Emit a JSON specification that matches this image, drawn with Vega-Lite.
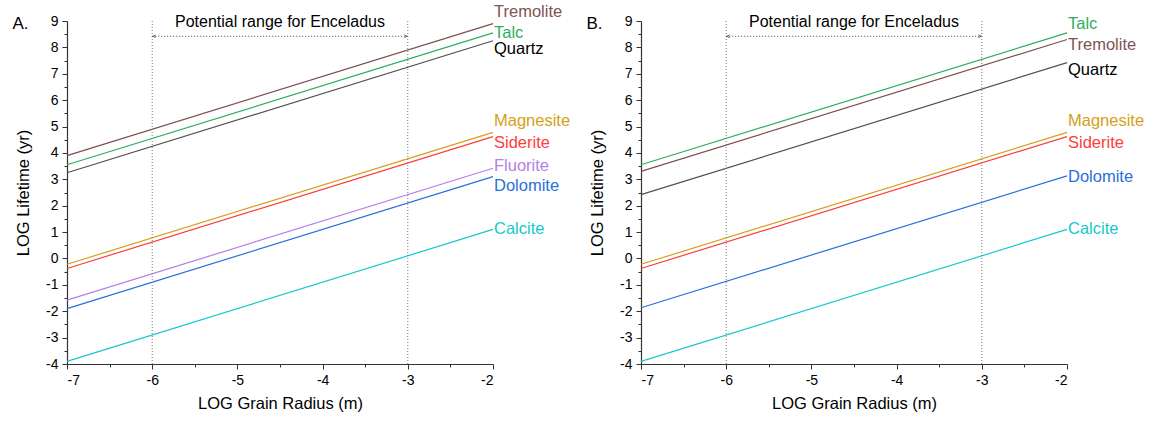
{
  "$schema": "https://vega.github.io/schema/vega-lite/v6.json",
  "padding": {"left": 12, "top": 4, "right": 0, "bottom": 0},
  "background": "white",
  "datasets": {
    "lines": [
      {"panel": "A", "mineral": "Tremolite", "radius": -7, "lifetime": 3.9},
      {"panel": "A", "mineral": "Tremolite", "radius": -2, "lifetime": 8.9},
      {"panel": "A", "mineral": "Talc", "radius": -7, "lifetime": 3.55},
      {"panel": "A", "mineral": "Talc", "radius": -2, "lifetime": 8.55},
      {"panel": "A", "mineral": "Quartz", "radius": -7, "lifetime": 3.25},
      {"panel": "A", "mineral": "Quartz", "radius": -2, "lifetime": 8.25},
      {"panel": "A", "mineral": "Magnesite", "radius": -7, "lifetime": -0.22},
      {"panel": "A", "mineral": "Magnesite", "radius": -2, "lifetime": 4.78},
      {"panel": "A", "mineral": "Siderite", "radius": -7, "lifetime": -0.38},
      {"panel": "A", "mineral": "Siderite", "radius": -2, "lifetime": 4.62},
      {"panel": "A", "mineral": "Fluorite", "radius": -7, "lifetime": -1.58},
      {"panel": "A", "mineral": "Fluorite", "radius": -2, "lifetime": 3.42},
      {"panel": "A", "mineral": "Dolomite", "radius": -7, "lifetime": -1.9},
      {"panel": "A", "mineral": "Dolomite", "radius": -2, "lifetime": 3.1},
      {"panel": "A", "mineral": "Calcite", "radius": -7, "lifetime": -3.9},
      {"panel": "A", "mineral": "Calcite", "radius": -2, "lifetime": 1.1},
      {"panel": "B", "mineral": "Talc", "radius": -7, "lifetime": 3.55},
      {"panel": "B", "mineral": "Talc", "radius": -2, "lifetime": 8.55},
      {"panel": "B", "mineral": "Tremolite", "radius": -7, "lifetime": 3.3},
      {"panel": "B", "mineral": "Tremolite", "radius": -2, "lifetime": 8.3},
      {"panel": "B", "mineral": "Quartz", "radius": -7, "lifetime": 2.42},
      {"panel": "B", "mineral": "Quartz", "radius": -2, "lifetime": 7.42},
      {"panel": "B", "mineral": "Magnesite", "radius": -7, "lifetime": -0.22},
      {"panel": "B", "mineral": "Magnesite", "radius": -2, "lifetime": 4.78},
      {"panel": "B", "mineral": "Siderite", "radius": -7, "lifetime": -0.38},
      {"panel": "B", "mineral": "Siderite", "radius": -2, "lifetime": 4.62},
      {"panel": "B", "mineral": "Dolomite", "radius": -7, "lifetime": -1.87},
      {"panel": "B", "mineral": "Dolomite", "radius": -2, "lifetime": 3.13},
      {"panel": "B", "mineral": "Calcite", "radius": -7, "lifetime": -3.9},
      {"panel": "B", "mineral": "Calcite", "radius": -2, "lifetime": 1.1}
    ],
    "labels": [
      {"panel": "A", "mineral": "Tremolite", "radius": -2, "labelLifetime": 9.34},
      {"panel": "A", "mineral": "Talc", "radius": -2, "labelLifetime": 8.56},
      {"panel": "A", "mineral": "Quartz", "radius": -2, "labelLifetime": 7.95},
      {"panel": "A", "mineral": "Magnesite", "radius": -2, "labelLifetime": 5.21},
      {"panel": "A", "mineral": "Siderite", "radius": -2, "labelLifetime": 4.37},
      {"panel": "A", "mineral": "Fluorite", "radius": -2, "labelLifetime": 3.52},
      {"panel": "A", "mineral": "Dolomite", "radius": -2, "labelLifetime": 2.74},
      {"panel": "A", "mineral": "Calcite", "radius": -2, "labelLifetime": 1.11},
      {"panel": "B", "mineral": "Talc", "radius": -2, "labelLifetime": 8.9},
      {"panel": "B", "mineral": "Tremolite", "radius": -2, "labelLifetime": 8.1},
      {"panel": "B", "mineral": "Quartz", "radius": -2, "labelLifetime": 7.15},
      {"panel": "B", "mineral": "Magnesite", "radius": -2, "labelLifetime": 5.21},
      {"panel": "B", "mineral": "Siderite", "radius": -2, "labelLifetime": 4.37},
      {"panel": "B", "mineral": "Dolomite", "radius": -2, "labelLifetime": 3.1},
      {"panel": "B", "mineral": "Calcite", "radius": -2, "labelLifetime": 1.11}
    ],
    "bounds": [
      {"radius": -6, "low": -4, "high": 9},
      {"radius": -3, "low": -4, "high": 9}
    ],
    "range": [
      {"from": -6, "to": -3, "lifetime": 8.42, "text": "Potential range for Enceladus", "mid": -4.5, "textLifetime": 8.97}
    ],
    "panels": [
      {"panel": "A", "tag": "A.", "tagRadius": -7.64, "tagLifetime": 8.9},
      {"panel": "B", "tag": "B.", "tagRadius": -7.64, "tagLifetime": 8.9}
    ]
  },
  "spacing": 15,
  "hconcat": [
    {
      "width": 426,
      "height": 343,
      "encoding": {
        "x": {"field": "radius", "type": "quantitative", "scale": {"domain": [-7, -2], "nice": false, "zero": false},
          "axis": {"title": "LOG Grain Radius (m)", "values": [-7, -6.5, -6, -5.5, -5, -4.5, -4, -3.5, -3, -2.5, -2],
            "labelOverlap": false,
            "labelExpr": "datum.value % 1 === 0 ? '' + datum.value : ''",
            "tickSize": {"condition": {"test": "datum.value % 1 !== 0", "value": 3}, "value": 5}}},
        "y": {"field": "lifetime", "type": "quantitative", "scale": {"domain": [-4, 9], "nice": false, "zero": false},
          "axis": {"title": "LOG Lifetime (yr)", "values": [-4, -3.5, -3, -2.5, -2, -1.5, -1, -0.5, 0, 0.5, 1, 1.5, 2, 2.5, 3, 3.5, 4, 4.5, 5, 5.5, 6, 6.5, 7, 7.5, 8, 8.5, 9],
            "labelOverlap": false,
            "labelExpr": "datum.value % 1 === 0 ? '' + datum.value : ''",
            "tickSize": {"condition": {"test": "datum.value % 1 !== 0", "value": 3}, "value": 5}}}
      },
      "layer": [
        {
          "data": {"name": "lines"},
          "transform": [{"filter": "datum.panel === 'A'"}],
          "mark": {"type": "line", "strokeWidth": 1.2},
          "encoding": {
            "detail": {"field": "mineral"},
            "color": {"field": "mineral", "type": "nominal", "legend": null,
              "scale": {"domain": ["Tremolite", "Talc", "Quartz", "Magnesite", "Siderite", "Fluorite", "Dolomite", "Calcite"],
                "range": ["#7d4f4f", "#2eae5e", "#505050", "#d4a017", "#ff3b3b", "#b57fe6", "#2a6fdb", "#17c7cc"]}}
          }
        },
        {
          "data": {"name": "bounds"},
          "mark": {"type": "rule", "strokeDash": [1, 2], "color": "#777", "strokeWidth": 1},
          "encoding": {"y": {"field": "low", "type": "quantitative"}, "y2": {"field": "high"}}
        },
        {
          "data": {"name": "range"},
          "mark": {"type": "rule", "strokeDash": [1, 2], "color": "#444", "strokeWidth": 1},
          "encoding": {
            "x": {"field": "from", "type": "quantitative"},
            "x2": {"field": "to"}
          }
        },
        {
          "data": {"name": "range"},
          "mark": {"type": "point", "shape": "M0.5,-0.5L-0.5,0L0.5,0.5", "filled": false, "stroke": "#222", "strokeWidth": 1, "size": 30, "xOffset": 2},
          "encoding": {"x": {"field": "from", "type": "quantitative"}}
        },
        {
          "data": {"name": "range"},
          "mark": {"type": "point", "shape": "M-0.5,-0.5L0.5,0L-0.5,0.5", "filled": false, "stroke": "#222", "strokeWidth": 1, "size": 30, "xOffset": -2},
          "encoding": {"x": {"field": "to", "type": "quantitative"}}
        },
        {
          "data": {"name": "range"},
          "mark": {"type": "text", "font": "Liberation Sans", "fontSize": 16, "align": "center", "baseline": "middle", "color": "black"},
          "encoding": {
            "x": {"field": "mid", "type": "quantitative"},
            "y": {"field": "textLifetime", "type": "quantitative"},
            "text": {"field": "text"}
          }
        },
        {
          "data": {"name": "labels"},
          "transform": [{"filter": "datum.panel === 'A'"}],
          "mark": {"type": "text", "font": "Liberation Sans", "fontSize": 16.5, "align": "left", "baseline": "middle", "dx": 1},
          "encoding": {
            "y": {"field": "labelLifetime", "type": "quantitative"},
            "text": {"field": "mineral"},
            "color": {"field": "mineral", "type": "nominal", "legend": null,
              "scale": {"domain": ["Tremolite", "Talc", "Quartz", "Magnesite", "Siderite", "Fluorite", "Dolomite", "Calcite"],
                "range": ["#7d5353", "#2eae5e", "#000000", "#d4a017", "#ff3b3b", "#b57fe6", "#2a6fdb", "#17c7cc"]}}
          }
        },
        {
          "data": {"name": "panels"},
          "transform": [{"filter": "datum.panel === 'A'"}],
          "mark": {"type": "text", "font": "Liberation Sans", "fontSize": 17, "align": "left", "baseline": "middle", "color": "black"},
          "encoding": {"x": {"field": "tagRadius", "type": "quantitative"}, "y": {"field": "tagLifetime", "type": "quantitative"}, "text": {"field": "tag"}}
        }
      ],
      "resolve": {"scale": {"color": "independent"}}
    },
    {
      "width": 426,
      "height": 343,
      "encoding": {
        "x": {"field": "radius", "type": "quantitative", "scale": {"domain": [-7, -2], "nice": false, "zero": false},
          "axis": {"title": "LOG Grain Radius (m)", "values": [-7, -6.5, -6, -5.5, -5, -4.5, -4, -3.5, -3, -2.5, -2],
            "labelOverlap": false,
            "labelExpr": "datum.value % 1 === 0 ? '' + datum.value : ''",
            "tickSize": {"condition": {"test": "datum.value % 1 !== 0", "value": 3}, "value": 5}}},
        "y": {"field": "lifetime", "type": "quantitative", "scale": {"domain": [-4, 9], "nice": false, "zero": false},
          "axis": {"title": "LOG Lifetime (yr)", "values": [-4, -3.5, -3, -2.5, -2, -1.5, -1, -0.5, 0, 0.5, 1, 1.5, 2, 2.5, 3, 3.5, 4, 4.5, 5, 5.5, 6, 6.5, 7, 7.5, 8, 8.5, 9],
            "labelOverlap": false,
            "labelExpr": "datum.value % 1 === 0 ? '' + datum.value : ''",
            "tickSize": {"condition": {"test": "datum.value % 1 !== 0", "value": 3}, "value": 5}}}
      },
      "layer": [
        {
          "data": {"name": "lines"},
          "transform": [{"filter": "datum.panel === 'B'"}],
          "mark": {"type": "line", "strokeWidth": 1.2},
          "encoding": {
            "detail": {"field": "mineral"},
            "color": {"field": "mineral", "type": "nominal", "legend": null,
              "scale": {"domain": ["Tremolite", "Talc", "Quartz", "Magnesite", "Siderite", "Fluorite", "Dolomite", "Calcite"],
                "range": ["#7d4f4f", "#2eae5e", "#505050", "#d4a017", "#ff3b3b", "#b57fe6", "#2a6fdb", "#17c7cc"]}}
          }
        },
        {
          "data": {"name": "bounds"},
          "mark": {"type": "rule", "strokeDash": [1, 2], "color": "#777", "strokeWidth": 1},
          "encoding": {"y": {"field": "low", "type": "quantitative"}, "y2": {"field": "high"}}
        },
        {
          "data": {"name": "range"},
          "mark": {"type": "rule", "strokeDash": [1, 2], "color": "#444", "strokeWidth": 1},
          "encoding": {
            "x": {"field": "from", "type": "quantitative"},
            "x2": {"field": "to"}
          }
        },
        {
          "data": {"name": "range"},
          "mark": {"type": "point", "shape": "M0.5,-0.5L-0.5,0L0.5,0.5", "filled": false, "stroke": "#222", "strokeWidth": 1, "size": 30, "xOffset": 2},
          "encoding": {"x": {"field": "from", "type": "quantitative"}}
        },
        {
          "data": {"name": "range"},
          "mark": {"type": "point", "shape": "M-0.5,-0.5L0.5,0L-0.5,0.5", "filled": false, "stroke": "#222", "strokeWidth": 1, "size": 30, "xOffset": -2},
          "encoding": {"x": {"field": "to", "type": "quantitative"}}
        },
        {
          "data": {"name": "range"},
          "mark": {"type": "text", "font": "Liberation Sans", "fontSize": 16, "align": "center", "baseline": "middle", "color": "black"},
          "encoding": {
            "x": {"field": "mid", "type": "quantitative"},
            "y": {"field": "textLifetime", "type": "quantitative"},
            "text": {"field": "text"}
          }
        },
        {
          "data": {"name": "labels"},
          "transform": [{"filter": "datum.panel === 'B'"}],
          "mark": {"type": "text", "font": "Liberation Sans", "fontSize": 16.5, "align": "left", "baseline": "middle", "dx": 1},
          "encoding": {
            "y": {"field": "labelLifetime", "type": "quantitative"},
            "text": {"field": "mineral"},
            "color": {"field": "mineral", "type": "nominal", "legend": null,
              "scale": {"domain": ["Tremolite", "Talc", "Quartz", "Magnesite", "Siderite", "Fluorite", "Dolomite", "Calcite"],
                "range": ["#7d5353", "#2eae5e", "#000000", "#d4a017", "#ff3b3b", "#b57fe6", "#2a6fdb", "#17c7cc"]}}
          }
        },
        {
          "data": {"name": "panels"},
          "transform": [{"filter": "datum.panel === 'B'"}],
          "mark": {"type": "text", "font": "Liberation Sans", "fontSize": 17, "align": "left", "baseline": "middle", "color": "black"},
          "encoding": {"x": {"field": "tagRadius", "type": "quantitative"}, "y": {"field": "tagLifetime", "type": "quantitative"}, "text": {"field": "tag"}}
        }
      ],
      "resolve": {"scale": {"color": "independent"}}
    }
  ],
  "config": {
    "view": {"stroke": null},
    "axis": {
      "grid": false,
      "labelFont": "Liberation Sans",
      "labelFontSize": 14,
      "labelColor": "black",
      "titleFont": "Liberation Sans",
      "titleFontSize": 16.5,
      "titleFontWeight": "normal",
      "titleColor": "black",
      "domainColor": "#333",
      "domainWidth": 1.2,
      "tickColor": "#333",
      "tickWidth": 1,
      "labelPadding": 4
    },
    "axisY": {"titlePadding": 14},
    "axisX": {"titlePadding": 8}
  }
}
